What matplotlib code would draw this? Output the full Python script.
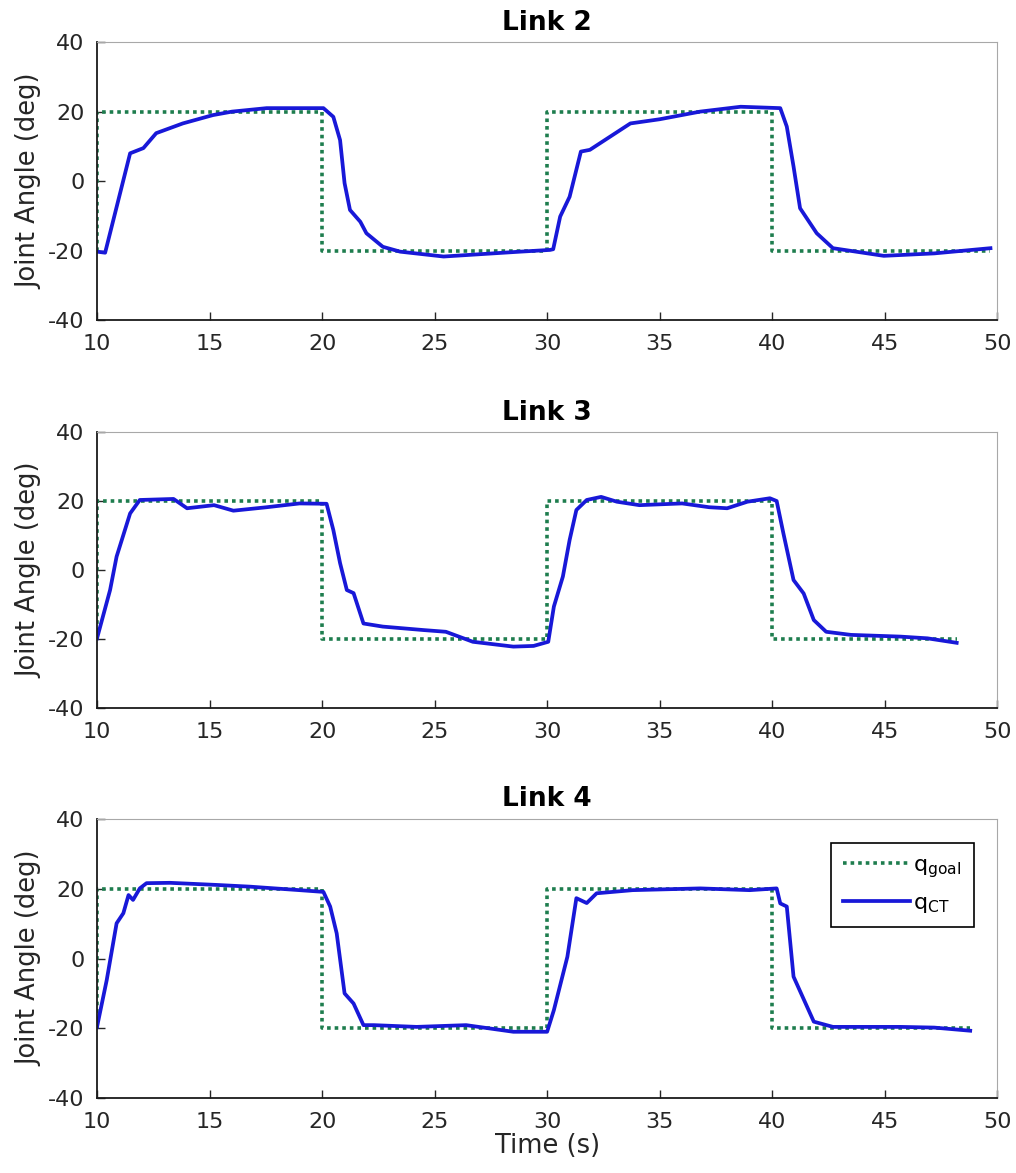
import matplotlib
matplotlib.use("Agg")
import matplotlib.pyplot as plt

plt.rcParams["axes.unicode_minus"] = False

# ---------------- data ----------------
titles = ["Link 2", "Link 3", "Link 4"]
x_ticks = [10, 15, 20, 25, 30, 35, 40, 45, 50]
y_ticks = [-40, -20, 0, 20, 40]

link2_t = [10.0, 10.36, 11.47, 12.06, 12.63, 13.81, 15.15, 16.0, 17.54, 20.06, 20.5, 20.8, 21.0,
           21.24, 21.7, 21.97, 22.7, 23.47, 25.4, 28.8, 30.13, 30.27, 30.58, 31.0, 31.5, 31.9, 32.8,
           33.7, 35.0, 36.8, 38.6, 40.36, 40.65, 40.95, 41.24, 41.98, 42.7, 44.96, 47.2, 49.7]
link2_v = [-20.2, -20.5, 8.1, 9.6, 13.9, 16.7, 19.1, 20.1, 21.1, 21.1, 18.6, 11.9, -0.5,
           -8.2, -11.6, -14.9, -18.8, -20.2, -21.6, -20.2, -19.7, -19.5, -10.1, -4.4, 8.6, 9.1, 12.9,
           16.7, 17.9, 20.1, 21.5, 21.1, 15.8, 4.3, -7.7, -14.9, -19.2, -21.4, -20.7, -19.2]

link3_t = [10.0, 10.58, 10.87, 11.47, 11.9, 13.4, 14.0, 15.2, 16.06, 17.54, 19.0, 20.2, 20.5,
           20.8, 21.1, 21.4, 21.84, 22.7, 24.5, 25.5, 26.7, 28.5, 29.4, 30.05, 30.3, 30.7, 31.0,
           31.3, 31.76, 32.4, 33.1, 34.1, 36.0, 37.2, 38.0, 38.9, 39.9, 40.2, 40.5, 40.95, 41.4,
           41.85, 42.4, 43.5, 45.7, 46.9, 48.2]
link3_v = [-19.8, -5.8, 3.9, 16.4, 20.3, 20.6, 17.9, 18.8, 17.2, 18.2, 19.3, 19.2, 11.6,
           2.0, -5.8, -6.7, -15.5, -16.4, -17.4, -17.9, -20.8, -22.2, -22.0, -20.8, -10.6, -1.9, 8.7,
           17.4, 20.3, 21.2, 19.8, 18.8, 19.3, 18.2, 17.9, 19.8, 20.8, 20.0, 10.6, -2.9, -6.8,
           -14.5, -17.9, -18.8, -19.3, -19.8, -21.1]

link4_t = [10.0, 10.43, 10.87, 11.17, 11.4, 11.6, 11.9, 12.2, 13.24, 15.3, 16.8, 19.0, 20.06,
           20.36, 20.65, 21.0, 21.4, 21.84, 22.3, 24.2, 26.4, 28.5, 30.0, 30.3, 30.9, 31.3, 31.76,
           32.2, 33.8, 36.8, 39.0, 40.2, 40.36, 40.65, 40.95, 41.85, 42.7, 45.7, 47.2, 48.8]
link4_v = [-19.6, -6.2, 10.1, 13.0, 18.2, 16.8, 20.1, 21.6, 21.7, 21.1, 20.6, 19.6, 19.1,
           14.9, 7.2, -10.0, -12.9, -19.1, -19.1, -19.6, -19.1, -21.0, -21.0, -14.8, 0.5, 17.3, 15.9,
           18.7, 19.6, 20.1, 19.6, 20.1, 15.8, 14.9, -5.2, -18.1, -19.6, -19.6, -19.8, -20.7]

goal_t_switch = [10, 10, 20, 20, 30, 30, 40, 40]
goal_v_switch = [-20, 20, 20, -20, -20, 20, 20, -20]
goal_end = [49.7, 48.2, 48.8]

traces = [(link2_t, link2_v), (link3_t, link3_v), (link4_t, link4_v)]

# ---------------- style ----------------
goal_color = "#1e7d4e"
ct_color = "#1818d8"
tick_color = "#262626"

fig = plt.figure(figsize=(10.16, 11.73), dpi=100)
positions = [
    [0.0955, 0.7268, 0.886, 0.2370],
    [0.0955, 0.3964, 0.886, 0.2353],
    [0.0955, 0.0639, 0.886, 0.2379],
]

for i, pos in enumerate(positions):
    ax = fig.add_axes(pos)
    gt = goal_t_switch + [goal_end[i]]
    gv = goal_v_switch + [goal_v_switch[-1]]
    ax.plot(gt, gv, color=goal_color, lw=2.6, linestyle=(0, (1.0, 1.1)), label=r"$\mathregular{q_{goal}}$")
    t, v = traces[i]
    ax.plot(t, v, color=ct_color, lw=2.7, label=r"$\mathregular{q_{CT}}$")
    ax.set_xlim(10, 50)
    ax.set_ylim(-40, 40)
    ax.set_xticks(x_ticks)
    ax.set_yticks(y_ticks)
    ax.tick_params(direction="in", length=6, width=1, labelsize=16, colors=tick_color,
                   top=False, right=False)
    ax.tick_params(axis="x", pad=10)
    ax.tick_params(axis="y", pad=9)
    for s in ["left", "bottom"]:
        ax.spines[s].set_color("#1a1a1a")
        ax.spines[s].set_linewidth(1.3)
    for s in ["top", "right"]:
        ax.spines[s].set_color("#a8a8a8")
        ax.spines[s].set_linewidth(0.8)
    ax.set_ylabel("Joint Angle (deg)", fontsize=18.5, color=tick_color, labelpad=4)
    ax.set_title(titles[i], fontsize=19, fontweight="bold", pad=9)
    if i == 2:
        ax.set_xlabel("Time (s)", fontsize=18.5, color=tick_color, labelpad=1)
        leg = ax.legend(loc="upper right", bbox_to_anchor=(0.974, 0.914), borderaxespad=0,
                        fontsize=16, fancybox=False, framealpha=1, edgecolor="black",
                        handlelength=3.0, handletextpad=0.15, borderpad=0.55, labelspacing=0.6)
        leg.get_frame().set_linewidth(1.2)

fig.savefig("out.png", dpi=100)
